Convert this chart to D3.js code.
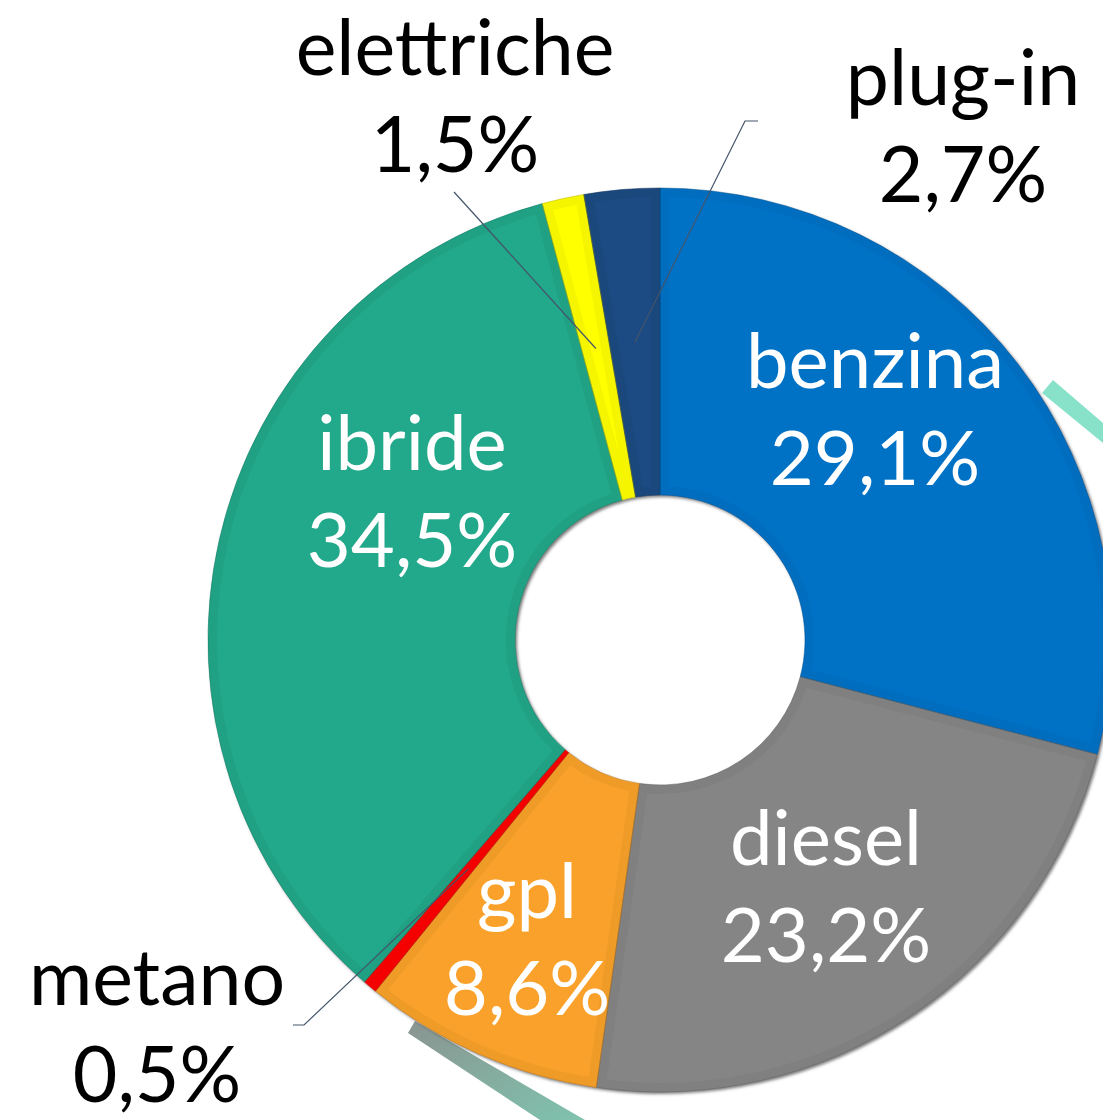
<!DOCTYPE html>
<html>
<head>
<meta charset="utf-8">
<script src="https://cdnjs.cloudflare.com/ajax/libs/d3/7.8.5/d3.min.js"></script>
<style>
  body { margin: 0; background: #fff; }
  svg { display: block; font-family: Lato, "Open Sans", sans-serif; }
  .inside { fill: #fff; font-weight: 400; font-size: 76px; }
  .outside { fill: #000; font-weight: 400; font-size: 77px; }
</style>
</head>
<body>
<svg id="chart" width="1103" height="1120"></svg>
<script>
// data
const categories = ["benzina", "diesel", "gpl", "metano", "ibride", "elettriche", "plug-in"]
const shares = [29.1, 23.2, 8.6, 0.5, 34.5, 1.5, 2.7]
const shareLabels = ["29,1%", "23,2%", "8,6%", "0,5%", "34,5%", "1,5%", "2,7%"]
const colors = ["#0072C6", "#858585", "#F9A12A", "#FF0000", "#21A88A", "#FFFF00", "#1F4C83"]

// layout: label anchor (x, first baseline), and where leader lines go for outside labels
const labelPos = [[875, 388], [826, 865], [527, 918], [157, 1005], [412, 470], [455, 75], [963, 105]]
const insideLabel = [true, true, true, false, true, false, false]
const leaders = {
    "metano": [[304, 1025], [293, 1025]],
    "elettriche": [[454, 192]],
    "plug-in": [[745, 121], [758, 121]]
}

const cx = 660, cy = 640, outerR = 452, innerR = 145
const lineGap = 97

let svg = d3.select("#chart")
let defs = svg.append("defs")

let shadow = defs.append("filter").attr("id", "shadow")
    .attr("x", "-10%").attr("y", "-10%").attr("width", "120%").attr("height", "120%")
shadow.append("feDropShadow").attr("dx", 2).attr("dy", 2).attr("stdDeviation", 1.5)
    .attr("flood-color", "#444").attr("flood-opacity", 0.7)

let barGrad = defs.append("linearGradient").attr("id", "barGrad")
    .attr("x1", "0%").attr("y1", "0%").attr("x2", "100%").attr("y2", "100%")
barGrad.append("stop").attr("offset", "0%").attr("stop-color", "#8A9490")
barGrad.append("stop").attr("offset", "100%").attr("stop-color", "#7FC3AE")

// decorative bars behind the ring
svg.append("polygon")
    .attr("points", "1042,393 1053,380 1103,423 1103,443")
    .attr("fill", "#88E2C9")
svg.append("polygon")
    .attr("points", "408,1033 415,1021 585,1120 540,1120")
    .attr("fill", "url(#barGrad)")

let pie = d3.pie().sort(null).value(function (d) { return d })
let arcs = pie(shares)
let arc = d3.arc().innerRadius(innerR).outerRadius(outerR)
let midArc = d3.arc().innerRadius((innerR + outerR) / 2).outerRadius((innerR + outerR) / 2)

let ring = svg.append("g").attr("transform", `translate(${cx},${cy})`)
    .attr("filter", "url(#shadow)")

arcs.forEach(function (d, i) {
    let clipId = `clip_${i}`
    defs.append("clipPath").attr("id", clipId)
        .append("path").attr("d", arc(d))
        .attr("transform", `translate(${cx},${cy})`)

    ring.append("path").attr("d", arc(d)).attr("fill", colors[i])
    // soft bevel: a darker band along the slice edges, clipped to the inside
    svg.append("g").attr("clip-path", `url(#${clipId})`)
        .append("path").attr("d", arc(d))
        .attr("transform", `translate(${cx},${cy})`)
        .attr("fill", "none")
        .attr("stroke", d3.color(colors[i]).darker(0.7))
        .attr("stroke-opacity", 0.18)
        .attr("stroke-width", 18)
    svg.append("path").attr("d", arc(d))
        .attr("transform", `translate(${cx},${cy})`)
        .attr("fill", "none")
        .attr("stroke", d3.color(colors[i]).darker(0.9))
        .attr("stroke-opacity", 0.5)
        .attr("stroke-width", 1)
})

// leader lines for the small slices
arcs.forEach(function (d, i) {
    let pts = leaders[categories[i]]
    if (!pts) return
    let c = midArc.centroid(d)
    let line = [[c[0] + cx, c[1] + cy]].concat(pts)
    svg.append("path")
        .attr("d", d3.line()(line))
        .attr("fill", "none")
        .attr("stroke", "#44546A")
        .attr("stroke-width", 1.2)
})

// labels
categories.forEach(function (name, i) {
    let t = svg.append("text")
        .attr("class", insideLabel[i] ? "inside" : "outside")
        .attr("text-anchor", "middle")
    t.append("tspan").attr("x", labelPos[i][0]).attr("y", labelPos[i][1]).text(name)
    t.append("tspan").attr("x", labelPos[i][0]).attr("y", labelPos[i][1] + lineGap).text(shareLabels[i])
})
</script>
</body>
</html>
